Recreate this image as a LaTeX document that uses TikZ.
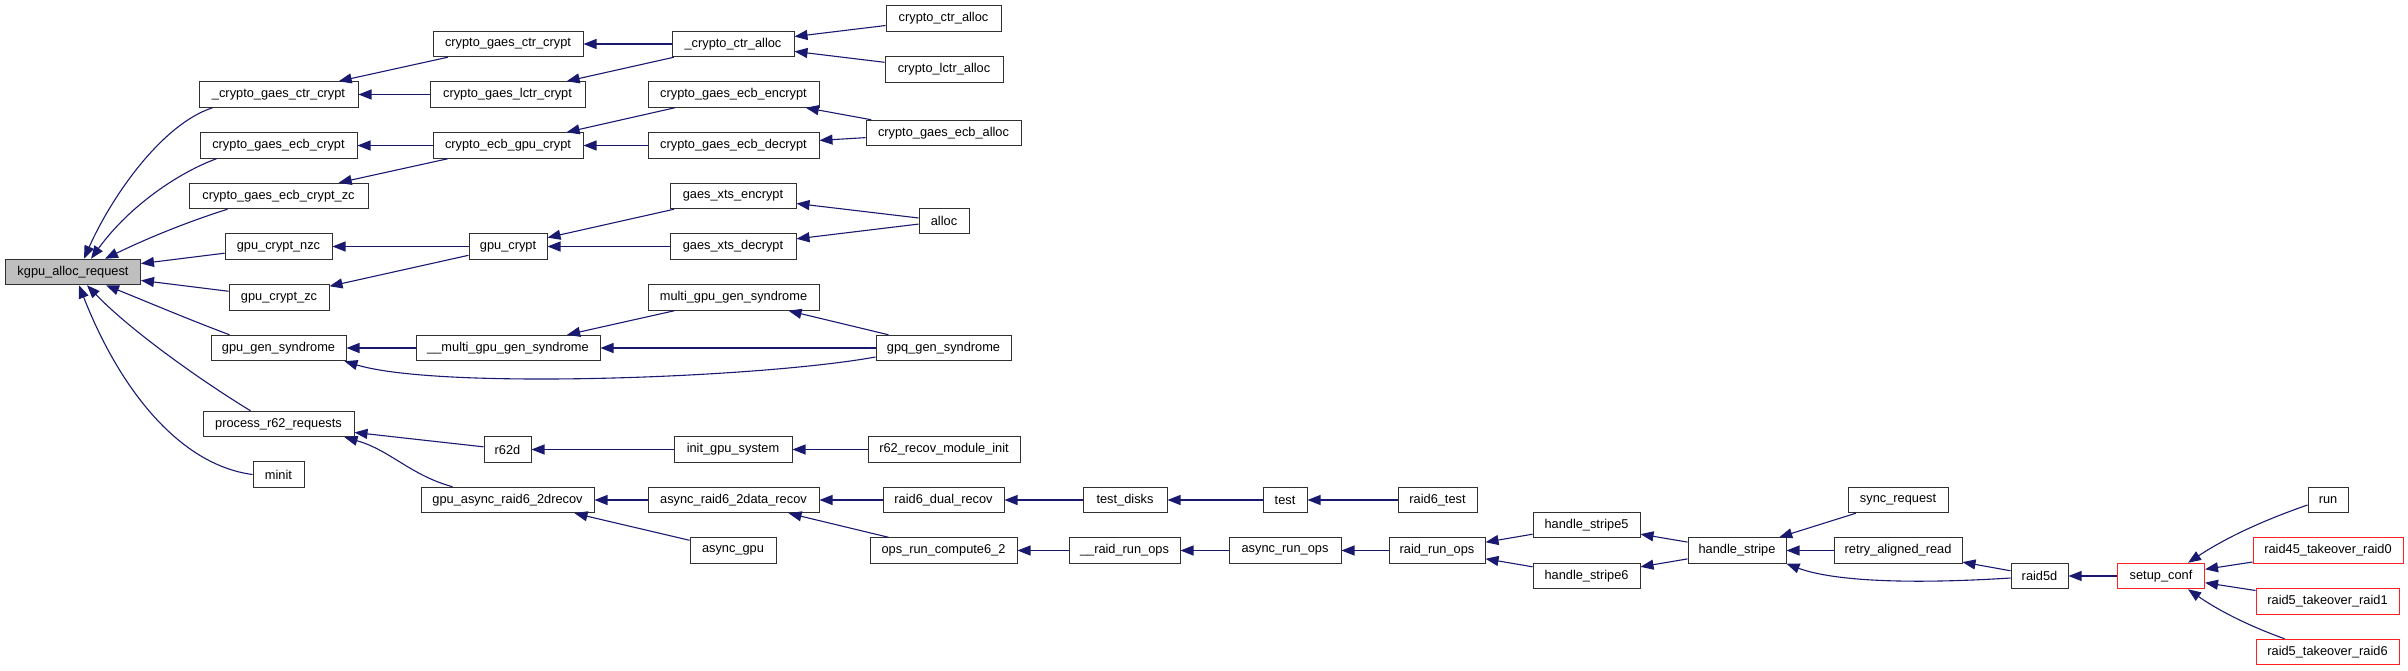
\documentclass[tikz,border=0pt]{standalone}
\usepackage{fontspec}
\setmainfont{Liberation Sans}
\usetikzlibrary{arrows.meta}
\definecolor{edgeblue}{HTML}{191970}
\definecolor{boxgray}{HTML}{BFBFBF}
\definecolor{boxborder}{HTML}{303030}
\definecolor{boxred}{HTML}{FF2020}
\tikzset{
  fn/.style={draw=boxborder, line width=1pt, fill=white, inner sep=0pt,
    minimum height=25.5pt, font=\fontsize{12.8pt}{15pt}\selectfont, text=black},
  rootfn/.style={fn, fill=boxgray},
  redfn/.style={fn, draw=boxred},
  edge/.style={draw=edgeblue, line width=1.1pt, -{Triangle[length=13pt,width=10pt]}},
}
\begin{document}
\begin{tikzpicture}[x=1pt,y=-1pt]
\useasboundingbox (0,0) rectangle (2408,671);
% column 0
\node[rootfn, minimum width=135pt] (kgpu) at (73,272) {kgpu\_alloc\_request};
% column 1
\node[fn, minimum width=159pt] (cgcc) at (278.5,94.5) {\_crypto\_gaes\_ctr\_crypt};
\node[fn, minimum width=157pt] (cgec) at (278.5,145.5) {crypto\_gaes\_ecb\_crypt};
\node[fn, minimum width=179pt] (cgecz) at (278.5,196) {crypto\_gaes\_ecb\_crypt\_zc};
\node[fn, minimum width=107pt] (gcn) at (278.5,246.5) {gpu\_crypt\_nzc};
\node[fn, minimum width=100pt] (gcz) at (279,297.5) {gpu\_crypt\_zc};
\node[fn, minimum width=135pt] (ggs) at (278.5,348) {gpu\_gen\_syndrome};
\node[fn, minimum width=151pt] (pr) at (278.5,424) {process\_r62\_requests};
\node[fn, minimum width=51pt] (minit) at (278.5,474.5) {minit};
% column 2
\node[fn, minimum width=150pt] (cgctr) at (508,44) {crypto\_gaes\_ctr\_crypt};
\node[fn, minimum width=155pt] (cglctr) at (507.5,94.5) {crypto\_gaes\_lctr\_crypt};
\node[fn, minimum width=150pt] (cegc) at (508,145.5) {crypto\_ecb\_gpu\_crypt};
\node[fn, minimum width=78pt] (gc) at (508,246.5) {gpu\_crypt};
\node[fn, minimum width=184pt] (mggs) at (508,348) {\_\_multi\_gpu\_gen\_syndrome};
\node[fn, minimum width=47pt] (r62d) at (507.5,449.5) {r62d};
\node[fn, minimum width=173pt] (gar) at (507.5,500) {gpu\_async\_raid6\_2drecov};
% column 3
\node[fn, minimum width=122pt] (cca) at (733,44) {\_crypto\_ctr\_alloc};
\node[fn, minimum width=171pt] (cgee) at (733.5,94.5) {crypto\_gaes\_ecb\_encrypt};
\node[fn, minimum width=171pt] (cged) at (733.5,145.5) {crypto\_gaes\_ecb\_decrypt};
\node[fn, minimum width=126pt] (gxe) at (733,196) {gaes\_xts\_encrypt};
\node[fn, minimum width=126pt] (gxd) at (733,246.5) {gaes\_xts\_decrypt};
\node[fn, minimum width=171pt] (mgs) at (733.5,297.5) {multi\_gpu\_gen\_syndrome};
\node[fn, minimum width=118pt] (igs) at (733,449.5) {init\_gpu\_system};
\node[fn, minimum width=171pt] (ar2) at (733.5,500) {async\_raid6\_2data\_recov};
\node[fn, minimum width=86pt] (ag) at (733,550.5) {async\_gpu};
% column 4
\node[fn, minimum width=115pt] (ctra) at (943.5,18.5) {crypto\_ctr\_alloc};
\node[fn, minimum width=118pt] (lctra) at (944,69.5) {crypto\_lctr\_alloc};
\node[fn, minimum width=155pt] (cgea) at (943.5,133) {crypto\_gaes\_ecb\_alloc};
\node[fn, minimum width=50pt] (alloc) at (944,221) {alloc};
\node[fn, minimum width=135pt] (gpq) at (943.5,348) {gpq\_gen\_syndrome};
\node[fn, minimum width=152pt] (rmi) at (944,449.5) {r62\_recov\_module\_init};
\node[fn, minimum width=121pt] (rdr) at (943.5,500) {raid6\_dual\_recov};
\node[fn, minimum width=147pt] (orc) at (943.5,550.5) {ops\_run\_compute6\_2};
% column 5
\node[fn, minimum width=84pt] (td) at (1125,500) {test\_disks};
\node[fn, minimum width=111pt] (rro2) at (1124.5,550.5) {\_\_raid\_run\_ops};
% column 6
\node[fn, minimum width=44pt] (test) at (1285,500) {test};
\node[fn, minimum width=112pt] (aro) at (1285,550.5) {async\_run\_ops};
% column 7
\node[fn, minimum width=79pt] (r6t) at (1437.5,500) {raid6\_test};
\node[fn, minimum width=96pt] (rro) at (1437,550.5) {raid\_run\_ops};
% column 8
\node[fn, minimum width=107pt] (hs5) at (1586.5,525) {handle\_stripe5};
\node[fn, minimum width=107pt] (hs6) at (1586.5,576) {handle\_stripe6};
% column 9
\node[fn, minimum width=98pt] (hs) at (1737,550.5) {handle\_stripe};
% column 10
\node[fn, minimum width=100pt] (sr) at (1898,500) {sync\_request};
\node[fn, minimum width=128pt] (rar) at (1898,550.5) {retry\_aligned\_read};
% column 11
\node[fn, minimum width=57pt] (r5d) at (2039.5,576) {raid5d};
% column 12
\node[redfn, minimum width=87pt] (sc) at (2161,576) {setup\_conf};
% column 13
\node[fn, minimum width=40pt] (run) at (2328,500) {run};
\node[redfn, minimum width=150pt] (t0) at (2328,550.5) {raid45\_takeover\_raid0};
\node[redfn, minimum width=143pt] (t1) at (2327.5,601.5) {raid5\_takeover\_raid1};
\node[redfn, minimum width=143pt] (t6) at (2327.5,652) {raid5\_takeover\_raid6};

% edges into kgpu_alloc_request
\draw[edge] ([xshift=14pt]cgcc.south west) .. controls (160,125) and (110,200) .. ([xshift=79pt]kgpu.north west);
\draw[edge] ([xshift=17pt]cgec.south west) .. controls (180,172) and (130,205) .. ([xshift=86pt]kgpu.north west);
\draw[edge] ([xshift=39pt]cgecz.south west) .. controls (190,221) and (150,237) .. ([xshift=100pt]kgpu.north west);
\draw[edge] (gcn) -- (kgpu);
\draw[edge] (gcz) -- (kgpu);
\draw[edge] ([xshift=19pt]ggs.north west) .. controls (190,320) and (150,303) .. ([xshift=101pt]kgpu.south west);
\draw[edge] ([xshift=48pt]pr.north west) .. controls (200,380) and (130,330) .. ([xshift=82pt]kgpu.south west);
\draw[edge] (minit.west) .. controls (180,465) and (120,390) .. ([xshift=74pt]kgpu.south west);
% column 2 -> column 1
\draw[edge] (cgctr) -- (cgcc);
\draw[edge] (cglctr) -- (cgcc);
\draw[edge] (cegc) -- (cgec);
\draw[edge] (cegc) -- (cgecz);
\draw[edge] (gc) -- (gcn);
\draw[edge] (gc) -- (gcz);
\draw[edge] (mggs) -- (ggs);
\draw[edge] ([yshift=-9pt]gpq.west) .. controls (760,378) and (440,390) .. ([xshift=-2pt]ggs.south east);
\draw[edge] (r62d) -- (pr);
\draw[edge] ([xshift=32pt]gar.north west) .. controls (410,475) and (390,450) .. ([xshift=-10pt]pr.south east);
% column 3 -> column 2
\draw[edge] (cca) -- (cgctr);
\draw[edge] (cca) -- (cglctr);
\draw[edge] (cgee) -- (cegc);
\draw[edge] (cged) -- (cegc);
\draw[edge] (gxe) -- (gc);
\draw[edge] (gxd) -- (gc);
\draw[edge] (mgs) -- (mggs);
\draw[edge] (gpq) -- (mggs);
\draw[edge] (igs) -- (r62d);
\draw[edge] (ar2) -- (gar);
\draw[edge] (ag) -- ([xshift=-20pt]gar.south east);
% column 4 -> column 3
\draw[edge] (ctra) -- (cca);
\draw[edge] (lctra) -- (cca);
\draw[edge] (cgea) -- (cgee);
\draw[edge] (cgea) -- (cged);
\draw[edge] (alloc) -- (gxe);
\draw[edge] (alloc) -- (gxd);
\draw[edge] (gpq) -- (mgs);
\draw[edge] (rmi) -- (igs);
\draw[edge] (rdr) -- (ar2);
\draw[edge] (orc) -- (ar2);
% further right
\draw[edge] (td) -- (rdr);
\draw[edge] (rro2) -- (orc);
\draw[edge] (test) -- (td);
\draw[edge] (aro) -- (rro2);
\draw[edge] (r6t) -- (test);
\draw[edge] (rro) -- (aro);
\draw[edge] (hs5) -- (rro);
\draw[edge] (hs6) -- (rro);
\draw[edge] (hs) -- (hs5);
\draw[edge] (hs) -- (hs6);
\draw[edge] (sr) -- (hs);
\draw[edge] (rar) -- (hs);
\draw[edge] ([yshift=-2pt]r5d.west) .. controls (1900,585) and (1830,580) .. (hs.south east);
\draw[edge] (r5d) -- (rar);
\draw[edge] (sc) -- (r5d);
\draw[edge] ([yshift=-5pt]run.west) .. controls (2270,518) and (2230,535) .. ([xshift=-17pt]sc.north east);
\draw[edge] (t0) -- (sc);
\draw[edge] (t1) -- (sc);
\draw[edge] ([xshift=29pt]t6.north west) .. controls (2260,630) and (2225,615) .. ([xshift=-17pt]sc.south east);
\end{tikzpicture}
\end{document}
